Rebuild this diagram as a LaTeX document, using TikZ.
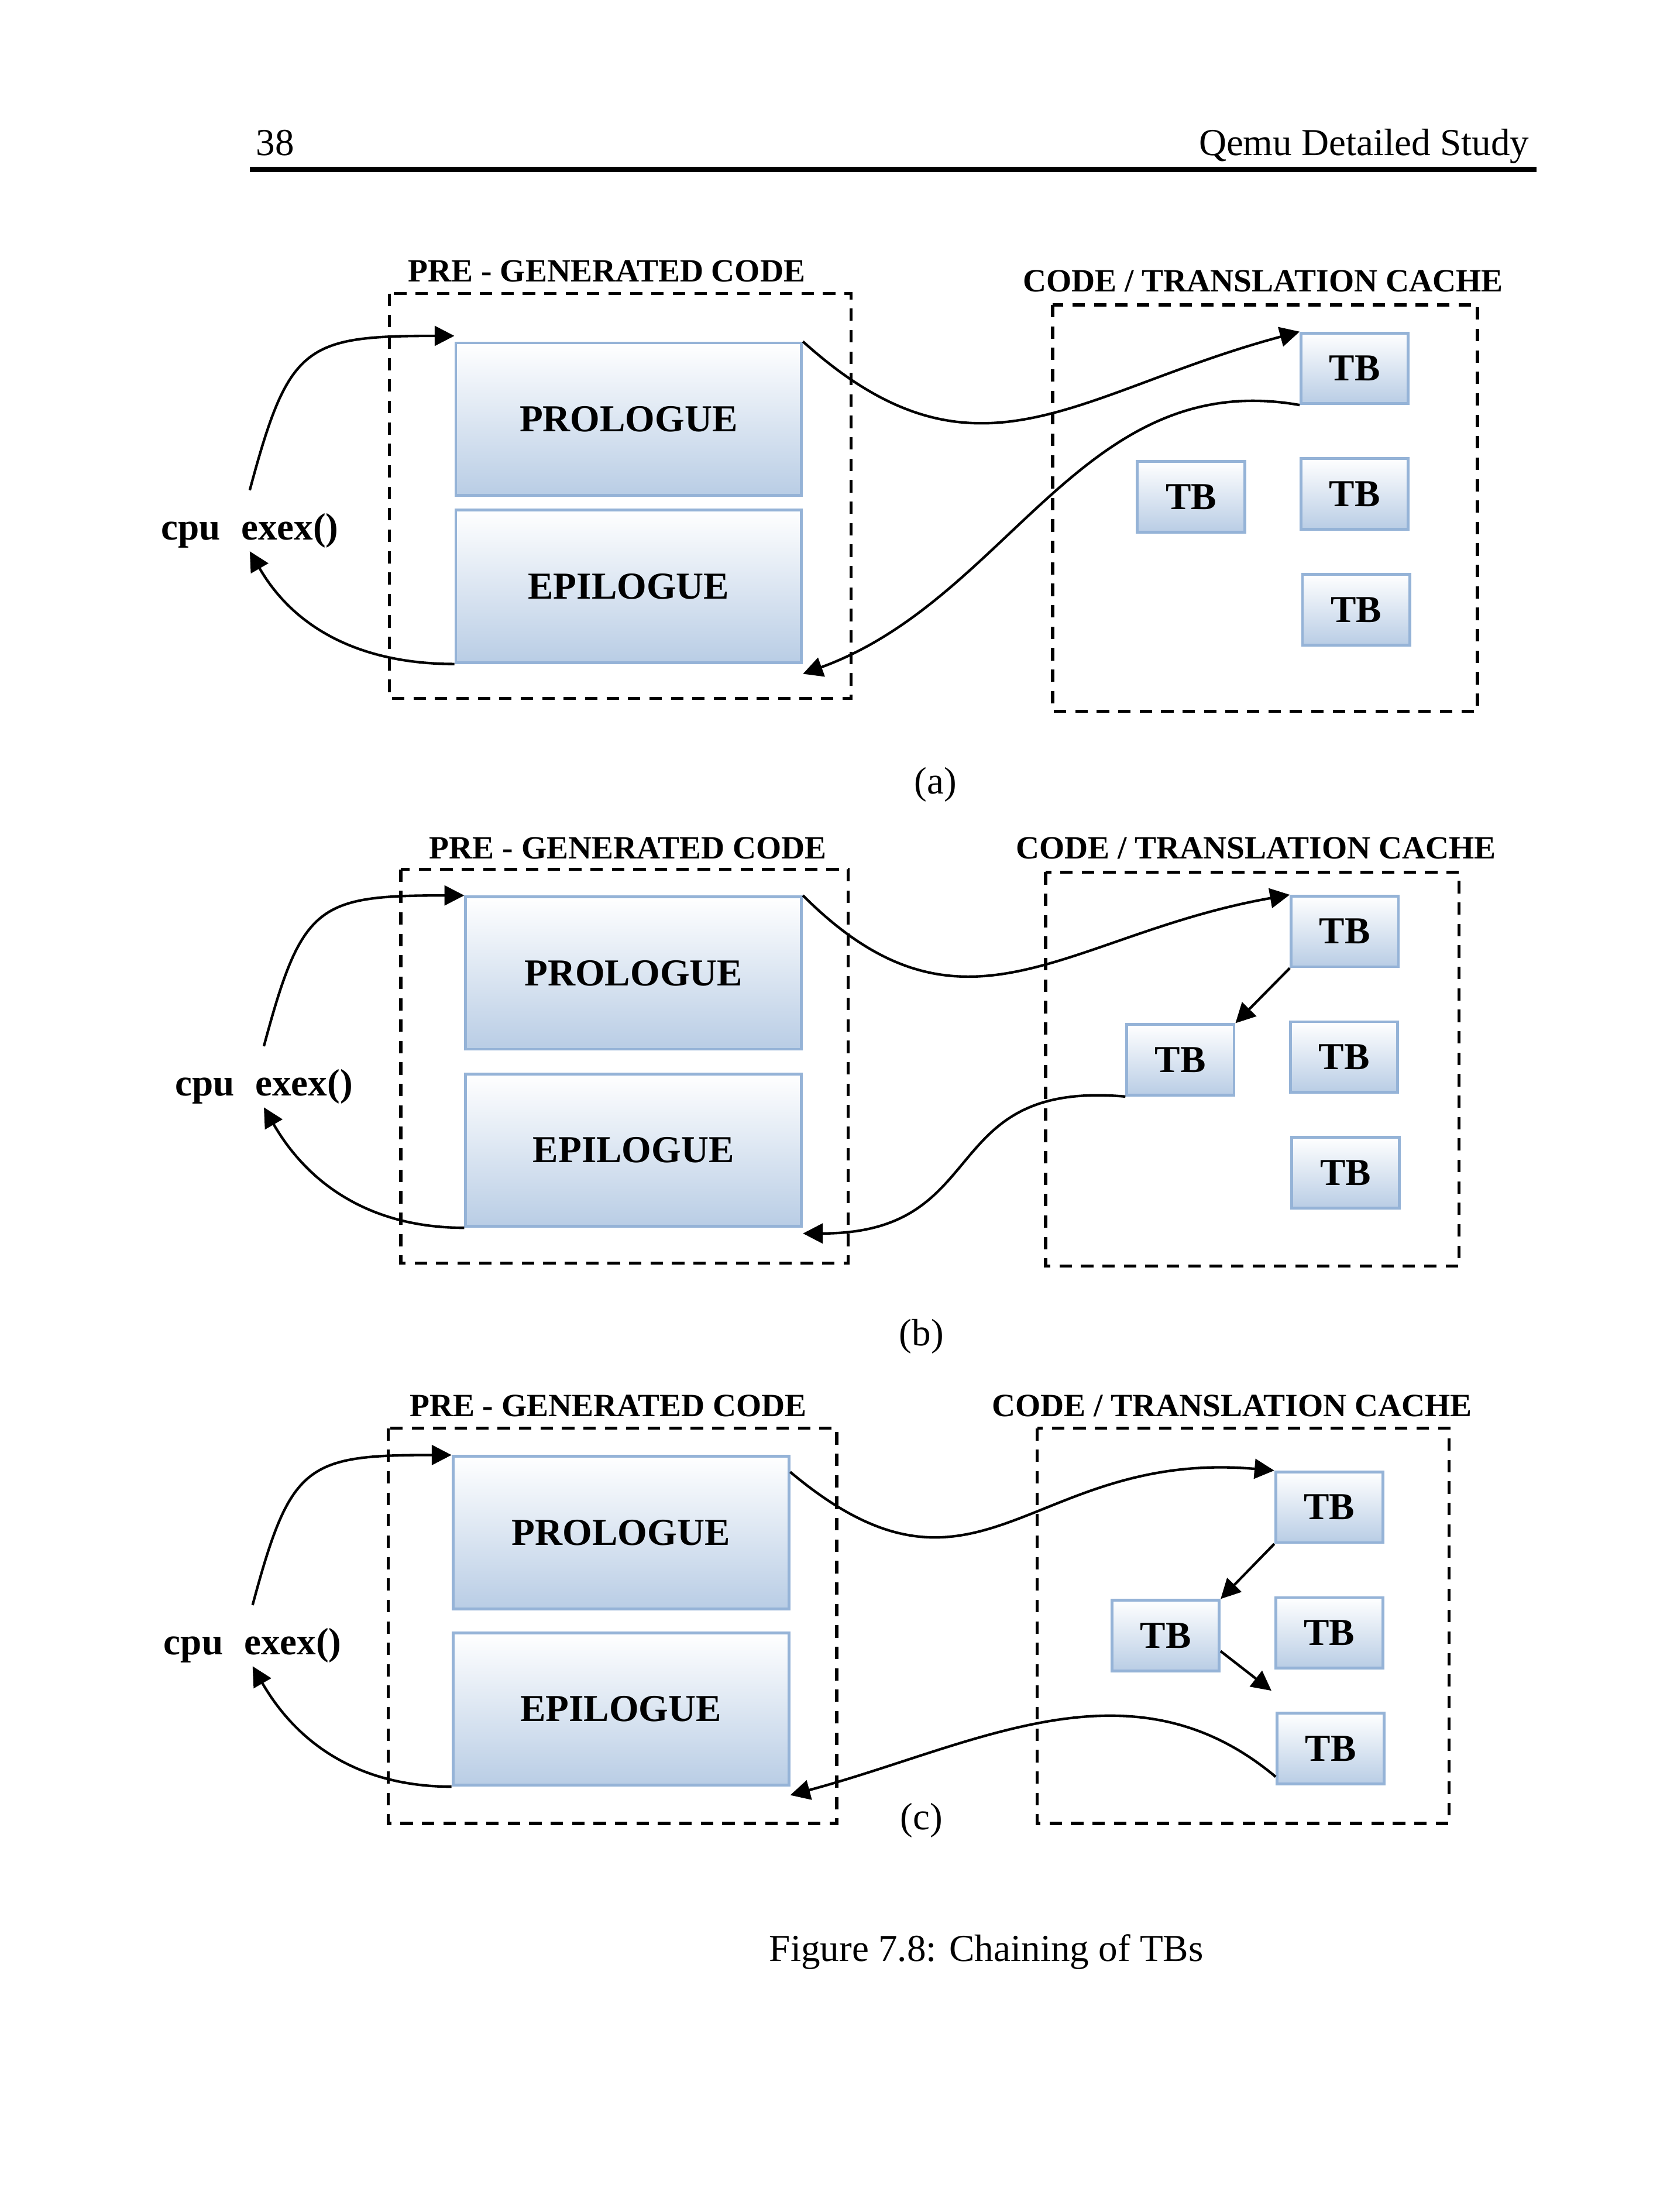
\documentclass[tikz,border=0pt]{standalone}
\usepackage{fontspec}
\setmainfont{Liberation Serif}
\usetikzlibrary{arrows.meta,positioning}

\definecolor{tbfill}{RGB}{185,205,229}
\definecolor{tbline}{RGB}{149,179,215}

\tikzset{
  blk/.style={draw=tbline, line width=1pt, top color=white, bottom color=tbfill,
    inner sep=0pt, font=\fontsize{13.5}{16}\selectfont\bfseries},
  prog/.style={blk, minimum width=119pt, minimum height=54pt},
  tb/.style={blk, minimum width=38pt, minimum height=25pt},
  lbl/.style={inner sep=0pt, font=\fontsize{11.5}{14}\selectfont\bfseries},
  cpu/.style={inner sep=1pt, font=\fontsize{13.5}{16}\selectfont\bfseries},
  dbox/.style={line width=1.1pt, dash pattern=on 4.4pt off 3.2pt},
  arr/.style={-{Triangle[length=7pt,width=7pt]}, line width=0.9pt}
}

\begin{document}
\begin{tikzpicture}[x=0.5pt, y=-0.5pt, every node/.style={font=\fontsize{13.5}{16}\selectfont}]
  \useasboundingbox (0,0) rectangle (1176,1567.4);
  % page head
  \node[anchor=base west, inner sep=0pt] (pageno) at (181,110) {38};
  \node[anchor=base east, inner sep=0pt] (head) at (1084,110) {Qemu Detailed Study};
  \draw[line width=2pt] (177,120) -- (1089,120);

  % (a) first entry into the cache
  \draw[dbox] (276,208) rectangle (603,495);
  \draw[dbox] (746,216) rectangle (1047,504);
  \node[lbl] (preA) at (430,192) {PRE - GENERATED CODE};
  \node[lbl] (cacheA) at (895,199) {CODE / TRANSLATION CACHE};
  \node[prog, minimum width=122.5pt] (proA) at (445.5,297) {PROLOGUE};
  \node[prog, minimum width=122.5pt] (epiA) at (445.5,415.5) {EPILOGUE};
  \foreach \n/\x/\y in {1/960/261, 2/844/352, 3/960/350, 4/961/432}{
    \node[tb] (tbA\n) at (\x,\y) {TB};
  }
  \node[cpu] (cpuA) at (177,376) {cpu\hspace{0.55em}exex()};
  \node (capA) at (663,556) {(a)};
  \draw[arr] ([yshift=7pt]cpuA.north) to[out=75,in=180,looseness=1.5] ([yshift=2pt]proA.north west);
  \draw[arr] (epiA.south west) to[out=180,in=-60] (cpuA.south);
  \draw[arr] (proA.north east) to[out=-42,in=195,looseness=1.2] (tbA1.north west);
  \draw[arr] (tbA1.south west) to[out=170,in=20] ([yshift=-3.5pt]epiA.south east);

  % (b) one TB chained to another
  \draw[dbox] (284,616) rectangle (601,895);
  \draw[dbox] (741,618) rectangle (1034,897);
  \node[lbl] (preB) at (445,601) {PRE - GENERATED CODE};
  \node[lbl] (cacheB) at (890,601) {CODE / TRANSLATION CACHE};
  \node[prog] (proB) at (449,689.5) {PROLOGUE};
  \node[prog] (epiB) at (449,815) {EPILOGUE};
  \foreach \n/\x/\y in {1/953/660, 2/836.5/751, 3/952.5/749, 4/953.5/831}{
    \node[tb] (tbB\n) at (\x,\y) {TB};
  }
  \node[cpu] (cpuB) at (187,770) {cpu\hspace{0.55em}exex()};
  \node (capB) at (653,947) {(b)};
  \draw[arr] ([yshift=7pt]cpuB.north) to[out=75,in=180,looseness=1.5] (proB.north west);
  \draw[arr] (epiB.south west) to[out=180,in=-60] (cpuB.south);
  \draw[arr] (proB.north east) to[out=-45,in=190,looseness=1.2] (tbB1.north west);
  \draw[arr] (tbB1.south west) -- (tbB2.north east);
  \draw[arr] (tbB2.south west) to[out=175,in=0,looseness=1.4] ([yshift=-2pt]epiB.south east);

  % (c) chain of three TBs
  \draw[dbox] (275,1012) rectangle (593,1292);
  \draw[dbox] (735,1012) rectangle (1027,1292);
  \node[lbl] (preC) at (431,996) {PRE - GENERATED CODE};
  \node[lbl] (cacheC) at (873,996) {CODE / TRANSLATION CACHE};
  \node[prog] (proC) at (440,1086) {PROLOGUE};
  \node[prog] (epiC) at (440,1211) {EPILOGUE};
  \foreach \n/\x/\y in {1/942/1068, 2/826/1159, 3/942/1157, 4/943/1239}{
    \node[tb] (tbC\n) at (\x,\y) {TB};
  }
  \node[cpu] (cpuC) at (179,1166) {cpu\hspace{0.55em}exex()};
  \node (capC) at (653,1290) {(c)};
  \draw[arr] ([yshift=7pt]cpuC.north) to[out=75,in=180,looseness=1.5] (proC.north west);
  \draw[arr] (epiC.south west) to[out=180,in=-60] (cpuC.south);
  \draw[arr] ([yshift=-6pt]proC.north east) to[out=-40,in=175,looseness=1.3] (tbC1.north west);
  \draw[arr] (tbC1.south west) -- (tbC2.north east);
  \draw[arr] ([yshift=-5.5pt]tbC2.east) -- ([shift={(-1.5pt,7.5pt)}]tbC4.north west);
  \draw[arr] ([yshift=3pt]tbC4.south west) to[out=140,in=15] ([yshift=-3pt]epiC.south east);

  % caption
  \node (fig) at (699,1383) {Figure 7.8: Chaining of TBs};
\end{tikzpicture}
\end{document}
